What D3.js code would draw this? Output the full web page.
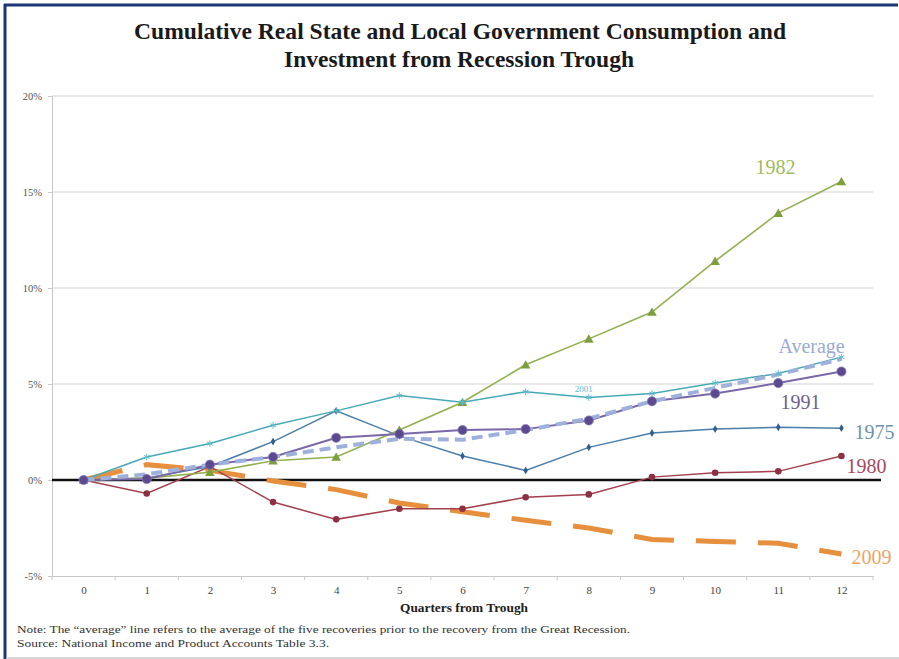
<!DOCTYPE html>
<html>
<head>
<meta charset="utf-8">
<script src="https://d3js.org/d3.v7.min.js"></script>
<style>
body { margin: 0; background: #fff; }
svg text { font-family: "Liberation Serif", "Times New Roman", serif; }
</style>
</head>
<body>
<svg id="chart" width="899" height="659"></svg>
<script>
// quarters from trough
const quarters = [0, 1, 2, 3, 4, 5, 6, 7, 8, 9, 10, 11, 12];
const yTicks = [-5, 0, 5, 10, 15, 20];

// cumulative % change
const r1975 = [0, 0.1, 0.7, 2.0, 3.6, 2.3, 1.25, 0.5, 1.7, 2.45, 2.65, 2.75, 2.7];
const r1980 = [0, -0.7, 0.7, -1.15, -2.05, -1.5, -1.5, -0.9, -0.75, 0.15, 0.38, 0.45, 1.25];
const r1982 = [0, 0.1, 0.4, 1.0, 1.2, 2.6, 4.05, 6.0, 7.35, 8.75, 11.4, 13.9, 15.55];
const r1991 = [0, 0.05, 0.8, 1.2, 2.2, 2.4, 2.6, 2.65, 3.1, 4.1, 4.5, 5.05, 5.65];
const r2001 = [0, 1.2, 1.9, 2.85, 3.6, 4.4, 4.05, 4.6, 4.3, 4.5, 5.05, 5.55, 6.4];
const rAverage = [0, 0.3, 0.8, 1.2, 1.7, 2.15, 2.1, 2.6, 3.2, 4.1, 4.8, 5.5, 6.3];
const r2009 = [0, 0.8, 0.5, -0.05, -0.5, -1.2, -1.65, -2.1, -2.5, -3.1, -3.2, -3.3, -3.85];

const svg = d3.select("#chart");

const x = d3.scaleLinear().domain([-0.5, 12.5]).range([52, 873]);
const y = d3.scaleLinear().domain([-5, 20]).range([576, 96]);

// frame
svg.append("line").attr("x1", 5).attr("x2", 5).attr("y1", 4).attr("y2", 659)
   .attr("stroke", "#1c3575").attr("stroke-width", 3);
svg.append("line").attr("x1", 4).attr("x2", 898).attr("y1", 5).attr("y2", 5)
   .attr("stroke", "#1c3575").attr("stroke-width", 3);
svg.append("line").attr("x1", 6).attr("x2", 899).attr("y1", 658).attr("y2", 658)
   .attr("stroke", "#c8c8c8").attr("stroke-width", 1.5);

// title
svg.append("text").attr("x", 460).attr("y", 39).attr("text-anchor", "middle")
   .attr("font-size", 23).attr("font-weight", "bold").attr("fill", "#1a1a1a")
   .attr("textLength", 652).attr("lengthAdjust", "spacingAndGlyphs")
   .text("Cumulative Real State and Local Government Consumption and");
svg.append("text").attr("x", 459).attr("y", 67).attr("text-anchor", "middle")
   .attr("font-size", 23).attr("font-weight", "bold").attr("fill", "#1a1a1a")
   .attr("textLength", 350).attr("lengthAdjust", "spacingAndGlyphs")
   .text("Investment from Recession Trough");

// gridlines
svg.append("g").selectAll("line")
   .data(yTicks.filter(d => d > -5))
   .join("line")
   .attr("x1", x(-0.5)).attr("x2", x(12.5))
   .attr("y1", d => y(d)).attr("y2", d => y(d))
   .attr("stroke", "#d4d4d4").attr("stroke-width", 1.2);

// y axis
const yAxis = svg.append("g")
   .attr("transform", "translate(" + x(-0.5) + ",0)")
   .call(d3.axisLeft(y).tickValues(yTicks).tickSize(4).tickFormat(d => d + "%"));
yAxis.select(".domain").attr("stroke", "#c8c8c8");
yAxis.selectAll(".tick line").attr("stroke", "#c8c8c8");
yAxis.selectAll(".tick text").attr("font-size", 10.5).attr("fill", "#555")
   .attr("font-family", "Liberation Serif, serif").attr("x", -10);

// x axis at -5%
const xAxis = svg.append("g")
   .attr("transform", "translate(0," + y(-5) + ")")
   .call(d3.axisBottom(x).tickValues(quarters).tickSize(0).tickPadding(10));
xAxis.select(".domain").attr("stroke", "#c8c8c8").attr("stroke-width", 1.2);
xAxis.selectAll(".tick text").attr("font-size", 11).attr("fill", "#444")
   .attr("font-family", "Liberation Serif, serif");
svg.append("g").selectAll("line")
   .data(d3.range(-0.5, 13, 1))
   .join("line")
   .attr("x1", d => x(d)).attr("x2", d => x(d))
   .attr("y1", y(-5)).attr("y2", y(-5) + 4)
   .attr("stroke", "#c8c8c8");

svg.append("text").attr("x", 464).attr("y", 612).attr("text-anchor", "middle")
   .attr("font-size", 12).attr("font-weight", "bold").attr("fill", "#222")
   .attr("textLength", 128).attr("lengthAdjust", "spacingAndGlyphs")
   .text("Quarters from Trough");

// zero line
svg.append("line")
   .attr("x1", x(-0.5)).attr("x2", 881)
   .attr("y1", y(0)).attr("y2", y(0))
   .attr("stroke", "#111").attr("stroke-width", 2.5);

const lineGen = d3.line().x((d, i) => x(quarters[i])).y(d => y(d));

const series = [
  { name: "2009", values: r2009, color: "#e6903d", width: 5, dash: "40,22" },
  { name: "1980", values: r1980, color: "#a3404f", width: 1.5 },
  { name: "1975", values: r1975, color: "#4b7ea9", width: 1.5 },
  { name: "1982", values: r1982, color: "#92b04f", width: 1.6 },
  { name: "2001", values: r2001, color: "#47a9b6", width: 1.5 },
  { name: "1991", values: r1991, color: "#7a67a8", width: 2 },
  { name: "Average", values: rAverage, color: "#9eb1dc", width: 4, dash: "11,6" }
];

series.forEach(s => {
  svg.append("path")
     .datum(s.values)
     .attr("fill", "none")
     .attr("stroke", s.color)
     .attr("stroke-width", s.width)
     .attr("stroke-dasharray", s.dash || null)
     .attr("d", lineGen);
});

// markers
const pts = (arr) => arr.map((v, i) => [x(quarters[i]), y(v)]);

svg.append("g").selectAll("circle").data(pts(r1980)).join("circle")
   .attr("cx", d => d[0]).attr("cy", d => d[1]).attr("r", 3.3)
   .attr("fill", "#8c3044");
svg.append("g").selectAll("path").data(pts(r1975)).join("path")
   .attr("transform", d => "translate(" + d[0] + "," + d[1] + ")")
   .attr("d", d3.symbol(d3.symbolDiamond, 18))
   .attr("fill", "#2f5f8a");
svg.append("g").selectAll("path").data(pts(r1982)).join("path")
   .attr("transform", d => "translate(" + d[0] + "," + (d[1] + 1) + ")")
   .attr("d", d3.symbol(d3.symbolTriangle, 40))
   .attr("fill", "#7f9e3e");
svg.append("g").selectAll("path").data(pts(r2001)).join("path")
   .attr("transform", d => "translate(" + d[0] + "," + d[1] + ")")
   .attr("d", d3.symbol(d3.symbolAsterisk, 30))
   .attr("stroke", "#5bbccb").attr("stroke-width", 1).attr("fill", "none");
svg.append("g").selectAll("circle").data(pts(r1991)).join("circle")
   .attr("cx", d => d[0]).attr("cy", d => d[1]).attr("r", 4.6)
   .attr("fill", "#5c4a8f").attr("stroke", "#8a7bb8").attr("stroke-width", 0.8);

// series labels
const last = quarters.length - 1;
const labels = [
  { text: "1982", v: r1982[last], dx: -86, dy: -7, color: "#9fbb5c" },
  { text: "Average", v: rAverage[last], dx: -63, dy: -6, color: "#9aabd6" },
  { text: "1991", v: r1991[last], dx: -61, dy: 37, color: "#6f5f8e" },
  { text: "1975", v: r1975[last], dx: 13, dy: 11, color: "#6b93a8" },
  { text: "1980", v: r1980[last], dx: 5, dy: 17, color: "#a8485c" },
  { text: "2009", v: r2009[last], dx: 10, dy: 10, color: "#eba464" }
];
svg.append("g").selectAll("text").data(labels).join("text")
   .attr("x", d => x(quarters[last]) + d.dx)
   .attr("y", d => y(d.v) + d.dy)
   .attr("font-size", 20)
   .attr("fill", d => d.color)
   .text(d => d.text);
svg.append("text")
   .attr("x", x(8) - 5).attr("y", y(r2001[8]) - 5)
   .attr("text-anchor", "middle").attr("font-size", 9).attr("fill", "#5bbccb")
   .text("2001");

// notes
svg.append("text").attr("x", 17).attr("y", 633).attr("font-size", 11).attr("fill", "#333")
   .attr("textLength", 613).attr("lengthAdjust", "spacingAndGlyphs")
   .text("Note: The \u201caverage\u201d line refers to the average of the five recoveries prior to the recovery from the Great Recession.");
svg.append("text").attr("x", 17).attr("y", 647).attr("font-size", 11).attr("fill", "#333")
   .attr("textLength", 312).attr("lengthAdjust", "spacingAndGlyphs")
   .text("Source: National Income and Product Accounts Table 3.3.");
</script>
</body>
</html>
